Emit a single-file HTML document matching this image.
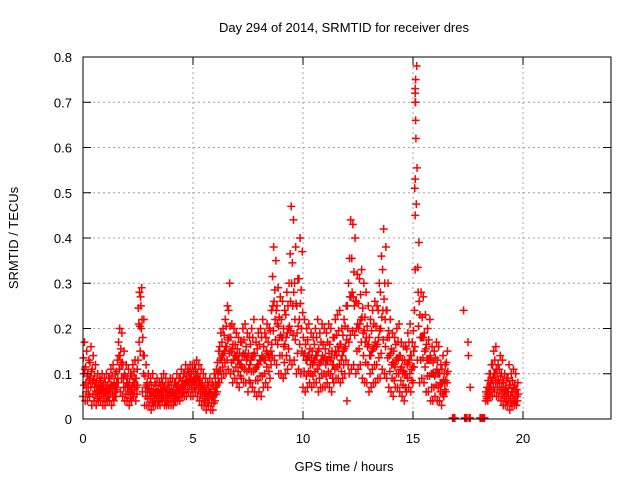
<!DOCTYPE html>
<html><head><meta charset="utf-8"><style>
body{margin:0;background:#fff}
svg{font-family:"Liberation Sans",sans-serif;font-size:13px}
</style></head><body>
<svg id="chart" width="640" height="480" viewBox="0 0 640 480" xmlns="http://www.w3.org/2000/svg">
<rect width="640" height="480" fill="#fff"/>
<text x="344" y="32" text-anchor="middle">Day 294 of 2014, SRMTID for receiver dres</text>
<text transform="translate(18,238) rotate(-90)" text-anchor="middle">SRMTID / TECUs</text>
<text x="344" y="471" text-anchor="middle">GPS time / hours</text>
<g id="grid"></g><g id="marks"></g><g id="axes"></g>
</svg>
<script>
const xTicks=[0,5,10,15,20];
const yTicks=[0,0.1,0.2,0.3,0.4,0.5,0.6,0.7,0.8];
const yTickLabels=["0","0.1","0.2","0.3","0.4","0.5","0.6","0.7","0.8"];
const stepHours=0.1;
const hiVals=[.17,.15,.13,.16,.14,.12,.10,.09,.10,.09,
.10,.09,.11,.12,.10,.13,.20,.19,.15,.12,
.11,.10,.12,.13,.11,.28,.29,.22,.12,.10,
.09,.10,.08,.09,.08,.09,.10,.09,.08,.09,
.09,.08,.10,.09,.11,.10,.12,.11,.12,.12,
.12,.13,.12,.11,.10,.09,.08,.09,.08,.10,
.11,.15,.19,.20,.22,.25,.30,.21,.20,.19,
.18,.17,.20,.21,.19,.18,.20,.22,.17,.19,
.20,.22,.19,.21,.20,.24,.38,.35,.29,.27,
.26,.24,.28,.30,.47,.44,.38,.31,.40,.37,
.22,.20,.21,.19,.18,.20,.22,.19,.21,.20,
.19,.21,.20,.18,.22,.23,.24,.20,.22,.25,
.30,.44,.43,.40,.32,.31,.33,.30,.28,.25,
.22,.24,.26,.25,.30,.36,.42,.38,.30,.22,
.19,.18,.20,.21,.17,.16,.16,.19,.21,.17,
.24,.78,.39,.28,.27,.23,.20,.22,.16,.15,
.17,.16,.12,.14,.12,.15,null,null,null,null,
null,null,null,null,null,null,null,null,null,null,
null,null,null,.07,.10,.12,.15,.16,.12,.14,
.13,.10,.09,.12,.10,.11,.10,.08];
const midVals=[.10,.08,.07,.09,.08,.07,.06,.06,.07,.06,
.06,.06,.07,.07,.06,.08,.14,.12,.09,.07,
.07,.06,.07,.08,.07,.21,.25,.14,.07,.06,
.06,.05,.05,.06,.05,.06,.06,.05,.05,.06,
.06,.05,.06,.06,.07,.07,.08,.08,.09,.08,
.09,.09,.08,.07,.06,.05,.05,.06,.05,.05,
.07,.10,.13,.14,.15,.16,.18,.15,.13,.14,
.13,.12,.14,.14,.13,.11,.13,.14,.11,.12,
.13,.14,.13,.15,.14,.15,.25,.22,.21,.18,
.18,.16,.18,.20,.26,.25,.22,.19,.22,.20,
.14,.13,.14,.12,.12,.13,.14,.12,.13,.13,
.12,.13,.13,.12,.14,.14,.15,.13,.15,.16,
.20,.27,.28,.25,.20,.20,.22,.19,.17,.16,
.14,.15,.16,.16,.18,.20,.24,.22,.18,.14,
.12,.12,.13,.13,.11,.10,.10,.12,.13,.11,
.15,.62,.28,.18,.18,.15,.13,.13,.10,.10,
.10,.10,.08,.08,.08,.10,null,null,null,null,
null,null,null,null,null,null,null,null,null,null,
null,null,null,.05,.07,.08,.09,.10,.08,.08,
.07,.06,.05,.06,.05,.06,.05,.05];
const loVals=[.05,.04,.04,.05,.03,.04,.03,.04,.04,.03,
.03,.04,.04,.03,.04,.05,.08,.06,.05,.04,
.04,.03,.04,.05,.04,.13,.15,.06,.03,.03,
.03,.02,.03,.03,.03,.03,.04,.03,.03,.03,
.03,.03,.04,.04,.04,.05,.05,.05,.06,.05,
.05,.06,.05,.04,.03,.03,.02,.03,.02,.02,
.04,.06,.08,.09,.10,.10,.11,.10,.08,.09,
.08,.07,.09,.08,.08,.06,.08,.07,.06,.05,
.06,.05,.07,.08,.07,.09,.14,.13,.12,.10,
.10,.09,.10,.11,.13,.12,.13,.10,.11,.10,
.07,.06,.07,.08,.07,.08,.08,.06,.07,.07,
.07,.08,.07,.06,.08,.09,.09,.08,.09,.10,
.04,.10,.11,.12,.10,.11,.12,.09,.08,.08,
.06,.07,.08,.08,.09,.09,.11,.10,.09,.07,
.06,.05,.07,.07,.06,.05,.04,.06,.07,.06,
.08,.33,.13,.08,.09,.08,.06,.06,.04,.04,
.05,.04,.04,.03,.05,.06,null,null,null,null,
null,null,null,null,null,null,null,null,null,null,
null,null,null,.04,.04,.05,.05,.06,.05,.05,
.04,.03,.03,.03,.02,.03,.03,.03];
const extraHours=[15.1,15.1,15.12,15.1,15.12,15.1,15.08,15.1,17.3,17.5,17.52,17.6,16.8,16.85,16.9,17.35,17.4,17.45,17.55,17.6,18.05,18.1,18.15,18.2,18.25];
const extraVals=[.70,.72,.75,.73,.66,.53,.51,.45,.24,.17,.14,.07,0,0,0,0,0,0,0,0,0,0,0,0,0];

const NS="http://www.w3.org/2000/svg";
const X0=83,X1=611,Y0=419,Y1=57;
const xs=h=>X0+(h/24)*(X1-X0);
const ys=v=>Y0-(v/0.8)*(Y0-Y1);
function mk(tag,attrs,parent){const e=document.createElementNS(NS,tag);for(const k in attrs)e.setAttribute(k,attrs[k]);parent.appendChild(e);return e;}
const grid=document.getElementById('grid'),marks=document.getElementById('marks'),axes=document.getElementById('axes');
yTicks.forEach((v,i)=>{
  const y=ys(v);
  if(i>0&&i<yTicks.length-1){const g=mk('line',{x1:X0,x2:X1,y1:y,y2:y,stroke:'#a0a0a0','stroke-dasharray':'2,3'},grid);
  
  }
  mk('line',{x1:X0,x2:X0+8,y1:y,y2:y,stroke:'#000'},axes);
  mk('line',{x1:X1,x2:X1-8,y1:y,y2:y,stroke:'#000'},axes);
  const t=mk('text',{x:72,y:y+5,'text-anchor':'end'},axes);t.textContent=yTickLabels[i];
  
  
});
xTicks.forEach(h=>{
  const x=xs(h);
  if(h>0){const g=mk('line',{x1:x,x2:x,y1:Y1,y2:Y0,stroke:'#a0a0a0','stroke-dasharray':'2,3'},grid);
  
  }
  mk('line',{x1:x,x2:x,y1:Y0,y2:Y0-8,stroke:'#000'},axes);
  mk('line',{x1:x,x2:x,y1:Y1,y2:Y1+8,stroke:'#000'},axes);
  const t=mk('text',{x:x,y:443,'text-anchor':'middle'},axes);t.textContent=String(h);
  
  
});
const frame=mk('rect',{x:X0,y:Y1,width:X1-X0,height:Y0-Y1,fill:'none',stroke:'#000'},axes);


function cross(h,v){
  if(v===null)return;
  const x=xs(h),y=Math.min(ys(v),Y0-1);
  const p=mk('path',{d:`M${x-4} ${y}H${x+4}M${x} ${y-4}V${y+4}`,stroke:'#ff0000','stroke-width':1.5,fill:'none'},marks);
  
  
}
hiVals.forEach((v,i)=>{
  const h=i*stepHours;
  cross(h,loVals[i]);
  cross(h+stepHours/3,midVals[i]);
  cross(h+2*stepHours/3,v);
  if(v!==null&&midVals[i]!==null){
    cross(h+stepHours/6,(v+midVals[i])/2);
    cross(h+stepHours/2,(loVals[i]+midVals[i])/2);
    cross(h+5*stepHours/6,(loVals[i]+v)/2);
  }
});
extraHours.forEach((h,i)=>cross(h,extraVals[i]));
</script>
</body></html>
